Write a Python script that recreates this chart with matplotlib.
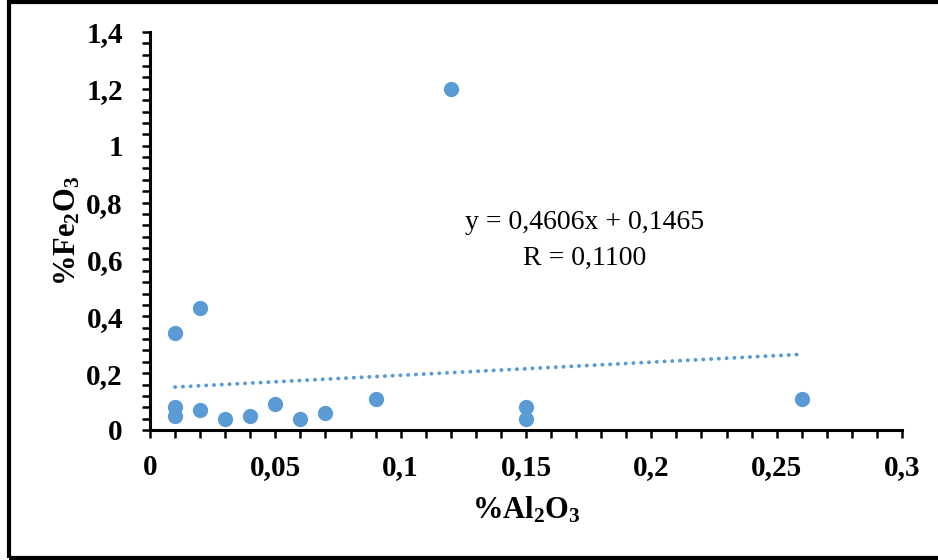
import matplotlib
matplotlib.use("Agg")
import matplotlib.pyplot as plt
from matplotlib.ticker import MultipleLocator, FuncFormatter
from matplotlib.patches import Rectangle

# Sample composition data (wt %)
al2o3 = [0.01, 0.02, 0.01, 0.01, 0.02, 0.03, 0.04, 0.05, 0.06, 0.07, 0.09, 0.12, 0.15, 0.15, 0.26]
fe2o3 = [0.34, 0.43, 0.08, 0.05, 0.07, 0.04, 0.05, 0.09, 0.04, 0.06, 0.11, 1.20, 0.08, 0.04, 0.11]

# Linear trendline coefficients and correlation
slope = 0.4606
intercept = 0.1465
r_value = 0.1100

x_ticks = [0, 0.05, 0.1, 0.15, 0.2, 0.25, 0.3]
y_ticks = [0, 0.2, 0.4, 0.6, 0.8, 1.0, 1.2, 1.4]

plt.rcParams["font.family"] = ["Liberation Serif", "DejaVu Serif"]
plt.rcParams["mathtext.fontset"] = "custom"
plt.rcParams["mathtext.rm"] = "Liberation Serif:bold"
plt.rcParams["mathtext.bf"] = "Liberation Serif:bold"
plt.rcParams["mathtext.default"] = "rm"

W, H, DPI = 938, 560, 100
fig = plt.figure(figsize=(W / DPI, H / DPI), dpi=DPI)
fig.patch.set_facecolor("white")

left, right, top, bottom = 150, 902, 32, 430
ax = fig.add_axes([left / W, 1 - bottom / H, (right - left) / W, (bottom - top) / H])

blue = "#5B9BD5"

# Trendline across the data range
xs = [min(al2o3), max(al2o3)]
ys = [slope * v + intercept for v in xs]
ax.plot(xs, ys, linestyle=(0, (0.05, 1.95)), color=blue, linewidth=2.8,
        dash_capstyle="round", zorder=2)

ax.plot(al2o3, fe2o3, linestyle="none", marker="o", markersize=11,
        color=blue, markeredgewidth=0, zorder=3)

ax.set_xlim(0, 0.3)
ax.set_ylim(0, 1.4)

def comma_fmt(v, pos):
    s = f"{v:.2f}".rstrip("0").rstrip(".")
    return s.replace(".", ",")

ax.set_xticks(x_ticks)
ax.set_yticks(y_ticks)
ax.xaxis.set_minor_locator(MultipleLocator(0.01))
ax.yaxis.set_minor_locator(MultipleLocator(0.04))
ax.xaxis.set_major_formatter(FuncFormatter(comma_fmt))
ax.yaxis.set_major_formatter(FuncFormatter(comma_fmt))

for s in ["top", "right"]:
    ax.spines[s].set_visible(False)
for s in ["left", "bottom"]:
    ax.spines[s].set_linewidth(2.2)
    ax.spines[s].set_color("black")

ax.tick_params(axis="both", which="both", direction="out", length=5.5, width=1.8, color="black")
ax.tick_params(axis="x", which="major", pad=12, labelsize=21)
ax.tick_params(axis="y", which="major", pad=14, labelsize=21)
for lab in ax.get_xticklabels() + ax.get_yticklabels():
    lab.set_fontweight("bold")

ax.set_xlabel("%Al$_2$O$_3$", fontsize=22, fontweight="bold", labelpad=10)
ax.set_ylabel("%Fe$_2$O$_3$", fontsize=22, fontweight="bold", labelpad=3)

eq = f"y = {slope:.4f}x + {intercept:.4f}".replace(".", ",")
rtxt = f"R = {r_value:.4f}".replace(".", ",")
ax.text(0.1735, 0.729, eq, fontsize=20, ha="center", va="center")
ax.text(0.1735, 0.605, rtxt, fontsize=20, ha="center", va="center")

# Outer frame
fig.add_artist(Rectangle((8.5 / W, 2 / H), 1.0, (558 - 2) / H, transform=fig.transFigure,
                         fill=False, edgecolor="black", linewidth=3))

fig.savefig("out.png", dpi=DPI, facecolor="white")
